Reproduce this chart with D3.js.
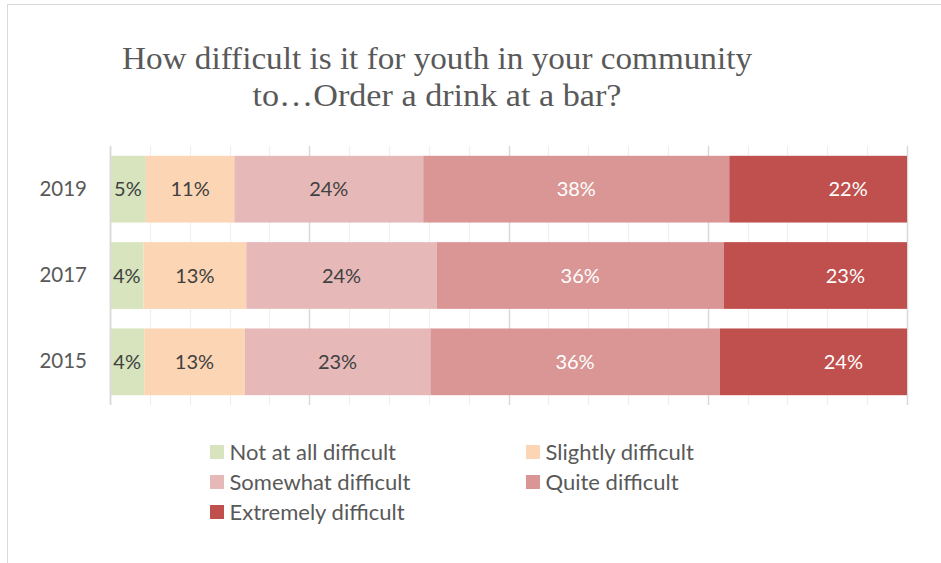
<!DOCTYPE html>
<html><head><meta charset="utf-8">
<script src="https://cdn.jsdelivr.net/npm/d3@7"></script>
<style>body{margin:0;background:#fff}svg{display:block}</style>
</head><body>
<svg id="chart" width="941" height="563"></svg>
<script>
const titleLines = ["How difficult is it for youth in your community", "to…Order a drink at a bar?"];
const years = ["2019", "2017", "2015"];
const seriesNames = ["Not at all difficult", "Slightly difficult", "Somewhat difficult", "Quite difficult", "Extremely difficult"];
const seriesColors = ["#d7e4bd", "#fcd5b5", "#e6b9b8", "#d99694", "#c0504d"];
const labelColors = ["#404040", "#404040", "#404040", "#ffffff", "#ffffff"];
const notAtAll = [4.5, 4.2, 4.3];
const slightly = [11.1, 12.9, 12.6];
const somewhat = [23.7, 23.9, 23.3];
const quite = [38.4, 36.0, 36.3];
const extremely = [22.3, 23.0, 23.5];
const xTicks = d3.range(0, 101, 5);
const majorTicks = [0, 25, 50, 75, 100];

const values = [notAtAll, slightly, somewhat, quite, extremely];
const rows = years.map((y, i) => {
  const r = {year: y};
  seriesNames.forEach((s, j) => r[s] = values[j][i]);
  return r;
});
const stacked = d3.stack().keys(seriesNames)(rows);

const svg = d3.select("#chart");
const font = "Lato, 'Open Sans', sans-serif";

svg.append("rect").attr("x", 7.5).attr("y", 4.5).attr("width", 940).attr("height", 562)
  .attr("fill", "#fff").attr("stroke", "#d9d9d9").attr("stroke-width", 1);

const x = d3.scaleLinear().domain([0, 100]).range([110, 907]);
const y = d3.scaleBand().domain(years).range([146, 405]).paddingInner(0.227).paddingOuter(0.1135);

// gridlines
svg.append("g").selectAll("line").data(xTicks).join("line")
  .attr("x1", d => Math.round(x(d)) + 0.5).attr("x2", d => Math.round(x(d)) + 0.5)
  .attr("y1", 146).attr("y2", 405)
  .attr("stroke", d => majorTicks.includes(d) ? "#d9d9d9" : "#efefef")
  .attr("stroke-width", d => majorTicks.includes(d) ? 1.5 : 1.2);

// bars
const layers = svg.append("g").selectAll("g").data(stacked).join("g")
  .attr("fill", (d, i) => seriesColors[i]);
layers.selectAll("rect").data(d => d).join("rect")
  .attr("x", d => x(d[0])).attr("width", d => x(d[1]) - x(d[0]))
  .attr("y", d => y(d.data.year)).attr("height", y.bandwidth());

// labels
stacked.forEach((layer, i) => {
  svg.append("g").selectAll("text").data(layer).join("text")
    .attr("x", d => (x(d[0]) + x(d[1])) / 2 + (i === 4 ? 30 : 0))
    .attr("y", d => y(d.data.year) + y.bandwidth() / 2)
    .attr("dy", "0.35em").attr("text-anchor", "middle")
    .attr("font-family", font).attr("font-size", 20)
    .attr("fill", labelColors[i])
    .text(d => Math.round(d[1] - d[0]) + "%");
});

// axis line
svg.append("line").attr("x1", 110.5).attr("x2", 110.5).attr("y1", 146).attr("y2", 405)
  .attr("stroke", "#d9d9d9").attr("stroke-width", 1.5);

// year labels
const yAxis = d3.axisLeft(y).tickSize(0).tickPadding(23);
const ya = svg.append("g").attr("transform", "translate(110,0)").call(yAxis);
ya.select(".domain").remove();
ya.selectAll("text").attr("font-family", font).attr("font-size", 20.5).attr("fill", "#595959");

// title
const titleWidths = [630, 369];
svg.append("g").selectAll("text").data(titleLines).join("text")
  .attr("x", 437).attr("y", (d, i) => 58 + i * 37).attr("dy", "0.35em")
  .attr("text-anchor", "middle")
  .attr("font-family", "'Liberation Serif', 'DejaVu Serif', serif")
  .attr("font-size", 31).attr("fill", "#595959")
  .attr("textLength", (d, i) => titleWidths[i]).attr("lengthAdjust", "spacingAndGlyphs")
  .text(d => d);

// legend
const legendPos = [[210, 452], [526, 452], [210, 482], [526, 482], [210, 512]];
const lg = svg.append("g").selectAll("g").data(seriesNames).join("g")
  .attr("transform", (d, i) => `translate(${legendPos[i][0]},${legendPos[i][1]})`);
lg.append("rect").attr("x", 0).attr("y", -7).attr("width", 14).attr("height", 14)
  .attr("fill", (d, i) => seriesColors[i]);
lg.append("text").attr("x", 19.5).attr("dy", "0.35em")
  .attr("font-family", font).attr("font-size", 22).attr("fill", "#595959")
  .text(d => d);
</script>
</body></html>
